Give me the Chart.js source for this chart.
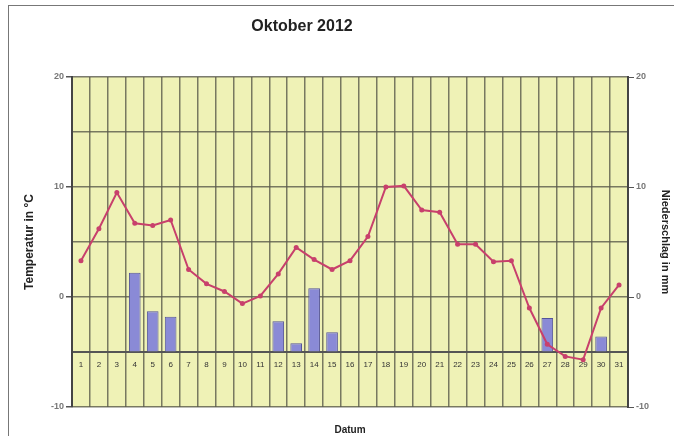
<!DOCTYPE html>
<html>
<head>
<meta charset="utf-8">
<script src="https://cdn.jsdelivr.net/npm/chart.js@4"></script>
<style>
    html, body { margin: 0; padding: 0; background: #fff; }
    #wrap { position: relative; width: 674px; height: 436px; overflow: hidden; }
    #frame { position: absolute; left: 8px; top: 5px; width: 700px; height: 500px;
             border-left: 1px solid #777; border-top: 1px solid #777; pointer-events: none; }
</style>
</head>
<body>
<div id="wrap">
    <canvas id="chart" width="674" height="436"></canvas>
    <div id="frame"></div>
</div>
<script>
    const days = ['1', '2', '3', '4', '5', '6', '7', '8', '9', '10', '11', '12', '13', '14', '15', '16',
        '17', '18', '19', '20', '21', '22', '23', '24', '25', '26', '27', '28', '29', '30', '31'];
    // Temperatur in °C
    const temps = [3.3, 6.2, 9.5, 6.7, 6.5, 7.0, 2.5, 1.2, 0.5, -0.6, 0.1, 2.1, 4.5, 3.4, 2.5, 3.3,
        5.5, 10.0, 10.1, 7.9, 7.7, 4.8, 4.8, 3.2, 3.3, -1.0, -4.3, -5.4, -5.7, -1.0, 1.1];
    // Niederschlag (secondary axis, columns start at the -5 crossing line)
    const rain = [null, null, null, 2.2, -1.3, -1.8, null, null, null, null, null, -2.2, -4.2, 0.8, -3.2, null,
        null, null, null, null, null, null, null, null, null, null, -1.9, null, null, -3.6, null];
    const axisMin = -10;
    const axisMax = 20;
    const crossAt = -5;

    const plotBg = {
        id: 'plotBg',
        beforeDraw(chart) {
            const { ctx, chartArea: a } = chart;
            ctx.save();
            ctx.fillStyle = '#eff2b6';
            ctx.fillRect(a.left, a.top, a.right - a.left, a.bottom - a.top);
            ctx.restore();
        },
        afterDraw(chart) {
            // title sits a bit left of centre in the original
            const ctx = chart.ctx;
            ctx.save();
            ctx.font = 'bold 16px "Liberation Sans", Arial, sans-serif';
            ctx.fillStyle = '#222';
            ctx.textAlign = 'center';
            ctx.textBaseline = 'middle';
            ctx.fillText('Oktober 2012', 302, 27);
            ctx.restore();
        }
    };

    const fam = '"Liberation Sans", Arial, sans-serif';
    const gridCol = 'rgba(90, 90, 75, 0.8)';
    const tickFont = { family: fam, size: 9, weight: 'bold' };
    const majorOnly = v => (v % 10 === 0 ? String(v) : '');
    const majorTick = c => (c.tick && c.tick.value % 10 === 0 ? '#555' : 'rgba(0,0,0,0)');

    new Chart(document.getElementById('chart'), {
        type: 'bar',
        data: {
            labels: days,
            datasets: [
                {
                    type: 'line',
                    label: 'Temperatur',
                    data: temps,
                    yAxisID: 'y',
                    borderColor: '#c8406c',
                    backgroundColor: '#c8406c',
                    borderWidth: 2,
                    pointRadius: 2.5,
                    pointBorderWidth: 0,
                    tension: 0,
                    order: 1
                },
                {
                    type: 'bar',
                    label: 'Niederschlag',
                    data: rain,
                    yAxisID: 'y2',
                    base: crossAt,
                    backgroundColor: '#8a8ad6',
                    borderColor: '#55559a',
                    borderWidth: 1,
                    barPercentage: 0.65,
                    categoryPercentage: 1,
                    order: 2
                }
            ]
        },
        options: {
            responsive: false,
            animation: false,
            layout: { padding: { left: 18, right: 0, top: 77, bottom: 0 } },
            plugins: {
                legend: { display: false },
                tooltip: { enabled: false },
                title: { display: false }
            },
            scales: {
                x: {
                    type: 'category',
                    position: { y: crossAt },
                    offset: true,
                    grid: { offset: true, color: gridCol, lineWidth: 1.5, drawTicks: false },
                    border: { color: '#555', width: 2 },
                    ticks: { font: { family: fam, size: 8 }, color: '#333', padding: 8, maxRotation: 0, autoSkip: false }
                },
                xTitle: {
                    type: 'category',
                    position: 'bottom',
                    grid: { display: false, drawTicks: false },
                    border: { display: false },
                    ticks: { display: false },
                    title: { display: true, text: 'Datum', font: { family: fam, size: 10, weight: 'bold' }, color: '#222', padding: 0 },
                    afterFit: s => { s.height = 29; }
                },
                y: {
                    position: 'left',
                    min: axisMin,
                    max: axisMax,
                    ticks: { stepSize: 5, callback: majorOnly, font: tickFont, color: '#777', padding: 2 },
                    grid: { color: gridCol, lineWidth: 1.5, tickLength: 6, tickColor: majorTick },
                    border: { color: '#444', width: 2 },
                    title: { display: true, text: 'Temperatur in °C', font: { family: fam, size: 12, weight: 'bold' }, color: '#222' },
                    afterFit: s => { s.width = 54; }
                },
                y2: {
                    position: 'right',
                    min: axisMin,
                    max: axisMax,
                    ticks: { stepSize: 5, callback: majorOnly, font: tickFont, color: '#777', padding: 2 },
                    grid: { drawOnChartArea: false, tickLength: 6, tickColor: majorTick },
                    border: { color: '#444', width: 2 },
                    title: { display: true, text: 'Niederschlag in mm', font: { family: fam, size: 11, weight: 'bold' }, color: '#222', padding: { top: 2, bottom: 2 } },
                    afterFit: s => { s.width = 46; }
                }
            }
        },
        plugins: [plotBg]
    });
</script>
</body>
</html>
